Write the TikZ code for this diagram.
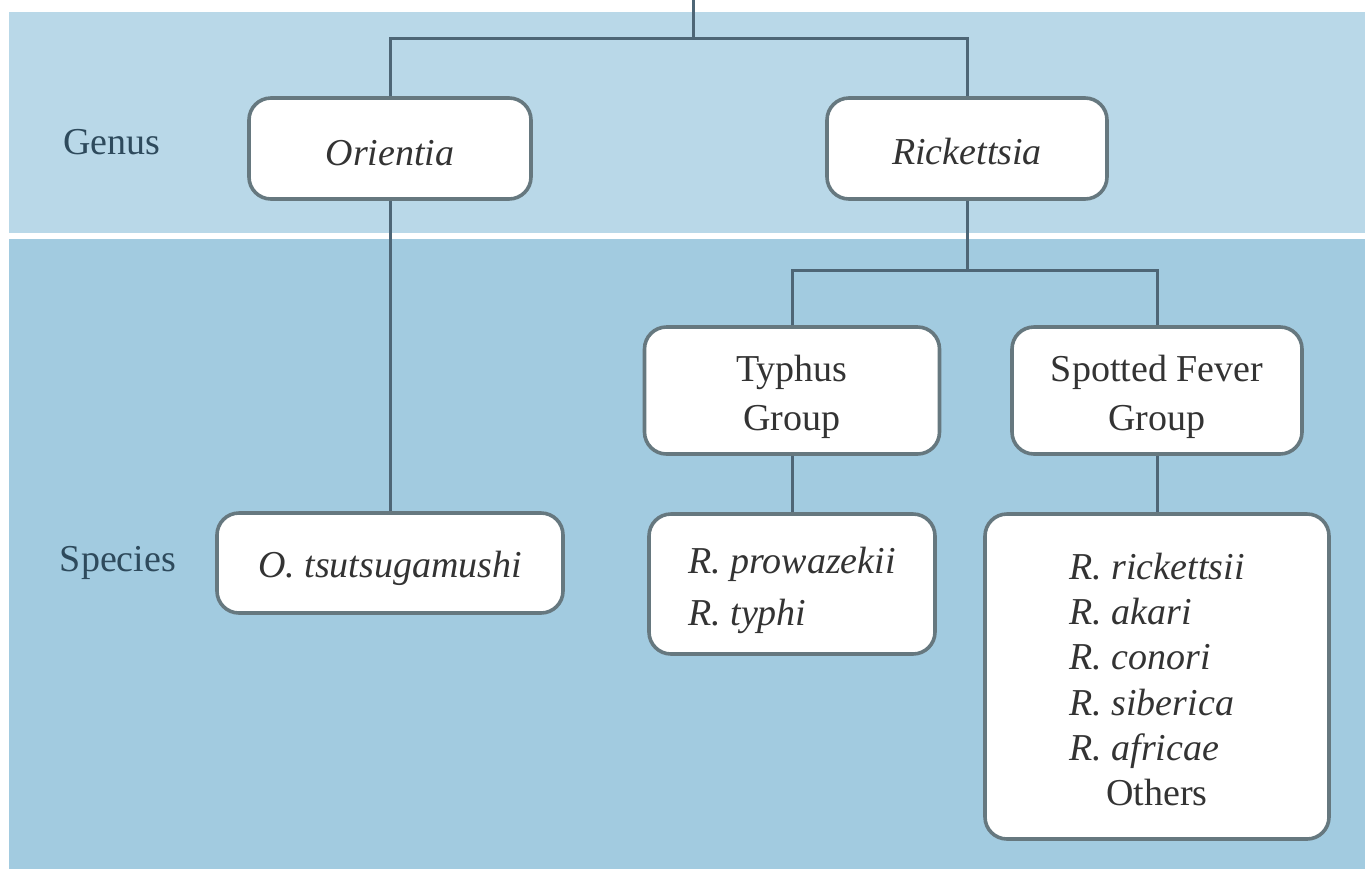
\documentclass[tikz,border=0pt]{standalone}
\usepackage{fontspec}
\setmainfont{Liberation Serif}
\definecolor{topband}{HTML}{B9D8E8}
\definecolor{botband}{HTML}{A2CBE0}
\definecolor{linecol}{HTML}{4E6676}
\definecolor{boxline}{HTML}{66787F}
\definecolor{labcol}{HTML}{2E4A5C}
\definecolor{txtcol}{HTML}{333333}
\newcommand\lowr[2]{\raisebox{-#1}[\height][\depth]{#2}}
\tikzset{
  taxbox/.style={draw=boxline, line width=1.8pt, fill=white, rounded corners=11pt,
    inner sep=0pt, align=center, text=txtcol, font=\fontsize{19}{24}\selectfont},
  conn/.style={draw=linecol, line width=1.5pt},
  rowlabel/.style={text=labcol, font=\fontsize{19}{24}\selectfont, inner sep=0pt}
}
\begin{document}
\begin{tikzpicture}[x=0.5pt,y=-0.5pt]
\useasboundingbox (0,0) rectangle (1365,869);
\fill[white] (0,0) rectangle (1365,869);
\fill[topband] (9,12) rectangle (1365,233);
\fill[botband] (9,239) rectangle (1365,869);

\node[rowlabel] (genus) at (112,142) {Genus};
\node[rowlabel] (species) at (118,563) {Species};

\node[taxbox, minimum width=141pt, minimum height=50.5pt] (orientia) at (390,148.5) {\lowr{2.5pt}{\itshape Orientia}};
\node[taxbox, minimum width=140pt, minimum height=50.5pt] (rickettsia) at (967,148.5) {\lowr{1.5pt}{\itshape Rickettsia}};
\node[taxbox, minimum width=173pt, minimum height=50pt] (otsu) at (390,563) {\lowr{2.5pt}{\itshape O. tsutsugamushi}};
\node[taxbox, minimum width=147.5pt, minimum height=63.5pt] (typhus) at (792,390.5)
  {\lowr{3pt}{\renewcommand\arraystretch{1.02}\begin{tabular}{@{}c@{}}Typhus\\Group\end{tabular}}};
\node[taxbox, minimum width=145pt, minimum height=63.5pt] (spotted) at (1157,390.5)
  {\lowr{3pt}{\renewcommand\arraystretch{1.02}\begin{tabular}{@{}c@{}}Spotted Fever\\Group\end{tabular}}};
\node[taxbox, minimum width=143pt, minimum height=70pt] (rprow) at (792,584)
  {\lowr{2.5pt}{\renewcommand\arraystretch{1.1}\begin{tabular}{@{}l@{}}\itshape R. prowazekii\\\itshape R. typhi\end{tabular}}};
\node[taxbox, minimum width=172pt, minimum height=162.5pt] (rlist) at (1157,676.5)
  {\lowr{3.5pt}{\renewcommand\arraystretch{0.94}\begin{tabular}{@{}l@{}}\itshape R. rickettsii\\\itshape R. akari\\\itshape R. conori\\\itshape R. siberica\\\itshape R. africae\\\multicolumn{1}{@{}c@{}}{Others}\end{tabular}}};

\coordinate (top) at (693,0);
\coordinate (j1) at (693,38);
\coordinate (j2) at (967,270);

\draw[conn] (top) -- (j1);
\draw[conn] (orientia.north) |- (j1);
\draw[conn] (j1) -| (rickettsia.north);
\draw[conn] (orientia.south) -- (otsu.north);
\draw[conn] (rickettsia.south) -- (j2);
\draw[conn] (typhus.north) |- (j2);
\draw[conn] (j2) -| (spotted.north);
\draw[conn] (typhus.south) -- (rprow.north);
\draw[conn] (spotted.south) -- (rlist.north);
\end{tikzpicture}
\end{document}
